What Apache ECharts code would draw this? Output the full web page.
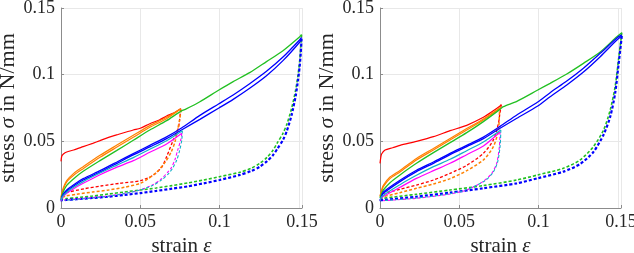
<!DOCTYPE html>
<html><head><meta charset="utf-8">
<script src="https://cdn.jsdelivr.net/npm/echarts@6/dist/echarts.min.js"></script>
<style>html,body{margin:0;padding:0;background:#fff}#c{width:634px;height:253px}</style>
</head><body><div id="c"></div>
<script>
// ---------- tick labels ----------
const xTicks = [0, 0.05, 0.1, 0.15];
const yTicks = [0, 0.05, 0.1, 0.15];
const xLabel = ['strain ', 'ε'];
const yLabel = ['stress ', 'σ', ' in N/mm'];

// ---------- left panel ----------
const L_red_load = [[0,0.035],[0.0005,0.039],[0.0015,0.0405],[0.0036,0.042],[0.008,0.0435],[0.014,0.046],[0.02,0.0485],[0.0246,0.0505],[0.03,0.053],[0.035,0.0548],[0.0456,0.0585],[0.05,0.0598],[0.056,0.0632],[0.062,0.066],[0.0666,0.069],[0.071,0.0712],[0.0755,0.0745]];
const L_red_unload = [[0.0755,0.0745],[0.0748,0.066],[0.074,0.06],[0.0708,0.051],[0.0666,0.0385],[0.0635,0.0305],[0.058,0.0245],[0.05,0.0205],[0.037,0.0185],[0.025,0.0165],[0.015,0.0145],[0.003,0.0115],[0.0005,0.0105]];
const L_orange_load1 = [[0,0.0075],[0.001,0.0125],[0.0036,0.0195],[0.008,0.0245],[0.014,0.0295],[0.0246,0.038],[0.035,0.0455],[0.0456,0.053],[0.056,0.0605],[0.0666,0.067],[0.0755,0.0742]];
const L_orange_load2 = [[0,0.008],[0.001,0.0135],[0.0036,0.0205],[0.008,0.026],[0.014,0.031],[0.0246,0.0395],[0.035,0.047],[0.0456,0.0545],[0.056,0.0618],[0.0666,0.068],[0.0755,0.0745]];
const L_orange_unload = [[0.0758,0.0738],[0.0748,0.066],[0.0735,0.0585],[0.072,0.05],[0.0695,0.042],[0.0655,0.034],[0.06,0.0265],[0.055,0.022],[0.05,0.0185],[0.04,0.0155],[0.03,0.0135],[0.02,0.012],[0.01,0.0103],[0.003,0.009],[0.0005,0.008]];
const L_green_load = [[0,0.0065],[0.001,0.011],[0.0036,0.017],[0.008,0.022],[0.014,0.0275],[0.0246,0.0355],[0.035,0.043],[0.0456,0.0508],[0.056,0.0585],[0.0666,0.0655],[0.0755,0.0725],[0.079,0.0743],[0.0876,0.0797],[0.0996,0.0885],[0.1086,0.0948],[0.119,0.1015],[0.1296,0.1098],[0.14,0.118],[0.1506,0.1285],[0.1517,0.13]];
const L_green_unload = [[0.1517,0.13],[0.1512,0.12],[0.1505,0.11],[0.1495,0.1],[0.148,0.0885],[0.1455,0.075],[0.1425,0.063],[0.14,0.056],[0.1365,0.049],[0.1338,0.0435],[0.13,0.038],[0.1254,0.0335],[0.12,0.0298],[0.1128,0.0268],[0.1,0.0235],[0.09,0.021],[0.08,0.0188],[0.07,0.0168],[0.06,0.015],[0.05,0.0135],[0.04,0.012],[0.03,0.0105],[0.02,0.009],[0.01,0.0078],[0.003,0.007],[0.0005,0.0068]];
const L_blue_load1 = [[0,0.005],[0.001,0.009],[0.0036,0.0125],[0.008,0.0165],[0.014,0.021],[0.0246,0.027],[0.035,0.0333],[0.0456,0.0398],[0.056,0.0458],[0.0666,0.052],[0.076,0.0585],[0.0876,0.0665],[0.0996,0.075],[0.1086,0.0815],[0.119,0.0898],[0.1296,0.0992],[0.14,0.1105],[0.1506,0.1245],[0.1517,0.127]];
const L_blue_load2 = [[0,0.006],[0.001,0.0095],[0.0036,0.0135],[0.008,0.0175],[0.014,0.022],[0.0246,0.028],[0.035,0.0343],[0.0456,0.0408],[0.056,0.047],[0.0666,0.0533],[0.076,0.06],[0.0876,0.0695],[0.0996,0.0782],[0.1086,0.0848],[0.119,0.0932],[0.1296,0.1025],[0.14,0.1132],[0.1506,0.1262],[0.1517,0.128]];
const L_blue_unload = [[0.1517,0.127],[0.1512,0.116],[0.1505,0.106],[0.1495,0.096],[0.148,0.084],[0.1455,0.07],[0.1425,0.058],[0.14,0.051],[0.1365,0.0445],[0.1338,0.0398],[0.13,0.0352],[0.1254,0.031],[0.12,0.0278],[0.1128,0.0248],[0.1,0.021],[0.09,0.0185],[0.08,0.0162],[0.07,0.0145],[0.06,0.0128],[0.05,0.0112],[0.04,0.0098],[0.03,0.0085],[0.02,0.0075],[0.01,0.0066],[0.003,0.006],[0.0005,0.0058]];
const L_magenta_load = [[0,0.0055],[0.001,0.008],[0.0036,0.011],[0.008,0.0145],[0.014,0.0185],[0.0246,0.025],[0.035,0.0305],[0.0456,0.0355],[0.056,0.0418],[0.0666,0.048],[0.0762,0.056]];
const L_magenta_unload = [[0.0762,0.056],[0.0755,0.051],[0.0735,0.043],[0.0718,0.036],[0.0695,0.03],[0.0676,0.0272],[0.0635,0.022],[0.058,0.0175],[0.05,0.0135],[0.04,0.011],[0.03,0.009],[0.02,0.0078],[0.01,0.0068],[0.002,0.006]];
const L_cyan_load = [[0,0.0058],[0.001,0.0085],[0.0036,0.0118],[0.008,0.0155],[0.014,0.0198],[0.0246,0.0262],[0.035,0.032],[0.0456,0.0378],[0.056,0.044],[0.0666,0.0505],[0.0765,0.058]];
const L_cyan_unload = [[0.0765,0.058],[0.0762,0.051],[0.0748,0.043],[0.073,0.036],[0.0705,0.03],[0.068,0.026],[0.064,0.0215],[0.058,0.017],[0.05,0.0135],[0.04,0.0108],[0.03,0.0088],[0.02,0.0075],[0.01,0.0065],[0.002,0.0058]];

// ---------- right panel ----------
const R_red_load = [[0,0.0335],[0.0005,0.038],[0.001,0.0405],[0.0032,0.0435],[0.008,0.0452],[0.0126,0.047],[0.023,0.05],[0.0337,0.0535],[0.0442,0.058],[0.0547,0.062],[0.0652,0.068],[0.071,0.0725],[0.0757,0.0765],[0.0765,0.0775]];
const R_red_unload = [[0.0765,0.0775],[0.0755,0.07],[0.0747,0.0635],[0.0715,0.051],[0.0652,0.041],[0.0547,0.032],[0.0442,0.026],[0.0337,0.021],[0.023,0.0172],[0.0126,0.014],[0.0021,0.011],[0.0005,0.0105]];
const R_orange_load1 = [[0,0.0085],[0.001,0.0125],[0.0021,0.016],[0.0063,0.022],[0.0126,0.027],[0.023,0.036],[0.0337,0.0435],[0.0442,0.051],[0.0547,0.0585],[0.0652,0.066],[0.0757,0.0748],[0.0762,0.0755]];
const R_orange_load2 = [[0,0.009],[0.001,0.0135],[0.0021,0.017],[0.0063,0.0232],[0.0126,0.0282],[0.023,0.0372],[0.0337,0.0447],[0.0442,0.0522],[0.0547,0.0596],[0.0652,0.0668],[0.0757,0.0752],[0.0762,0.0758]];
const R_orange_unload = [[0.0762,0.0755],[0.0755,0.0735],[0.0747,0.0585],[0.0715,0.046],[0.0652,0.036],[0.0547,0.028],[0.0442,0.022],[0.0337,0.018],[0.023,0.0148],[0.0126,0.0115],[0.0021,0.0085],[0.0005,0.008]];
const R_green_load = [[0,0.0075],[0.001,0.011],[0.0021,0.0135],[0.0063,0.019],[0.0126,0.0248],[0.023,0.0335],[0.0337,0.0415],[0.0442,0.049],[0.0547,0.0565],[0.0652,0.0648],[0.0757,0.074],[0.0778,0.076],[0.0863,0.08],[0.0995,0.0885],[0.1073,0.0935],[0.1178,0.1005],[0.1283,0.1085],[0.1389,0.117],[0.1494,0.1285],[0.1525,0.1315]];
const R_green_unload = [[0.1525,0.1315],[0.1504,0.111],[0.1483,0.091],[0.1452,0.0735],[0.141,0.0585],[0.1346,0.046],[0.1262,0.036],[0.1157,0.0298],[0.0995,0.0248],[0.0863,0.021],[0.0652,0.0168],[0.0442,0.0135],[0.023,0.0103],[0.0021,0.0073],[0.0005,0.007]];
const R_blue_load1 = [[0,0.005],[0.001,0.008],[0.0021,0.011],[0.0126,0.0198],[0.023,0.0273],[0.0337,0.0335],[0.0442,0.04],[0.0547,0.046],[0.0652,0.052],[0.0757,0.0598],[0.0863,0.0673],[0.0995,0.0765],[0.1073,0.0835],[0.1178,0.0923],[0.1283,0.102],[0.1389,0.1135],[0.1494,0.126],[0.1525,0.129]];
const R_blue_load2 = [[0,0.0058],[0.001,0.009],[0.0021,0.012],[0.0126,0.0208],[0.023,0.0283],[0.0337,0.0345],[0.0442,0.041],[0.0547,0.047],[0.0652,0.0532],[0.0757,0.0612],[0.0863,0.0698],[0.0995,0.0795],[0.1073,0.0865],[0.1178,0.0952],[0.1283,0.1048],[0.1389,0.116],[0.1494,0.1275],[0.1525,0.1298]];
const R_blue_unload = [[0.1525,0.129],[0.1504,0.107],[0.1483,0.086],[0.1452,0.0685],[0.141,0.055],[0.1346,0.042],[0.1262,0.033],[0.1157,0.0273],[0.0995,0.0223],[0.0863,0.0185],[0.0652,0.0148],[0.0442,0.0115],[0.023,0.0085],[0.0021,0.006],[0.0005,0.0058]];
const R_magenta_load = [[0,0.0055],[0.001,0.0078],[0.0126,0.0155],[0.023,0.0222],[0.0337,0.028],[0.0442,0.0335],[0.0547,0.04],[0.0652,0.0465],[0.0757,0.057]];
const R_magenta_unload = [[0.0757,0.057],[0.0753,0.046],[0.0736,0.0335],[0.0705,0.026],[0.0652,0.02],[0.0547,0.0135],[0.0442,0.0105],[0.023,0.0073],[0.0021,0.0055]];
const R_cyan_load = [[0,0.0055],[0.001,0.0085],[0.0126,0.0175],[0.023,0.0245],[0.0337,0.031],[0.0442,0.0365],[0.0547,0.043],[0.0652,0.0495],[0.0762,0.0585]];
const R_cyan_unload = [[0.0762,0.0585],[0.0758,0.047],[0.0742,0.0345],[0.0712,0.0265],[0.066,0.0203],[0.0547,0.0138],[0.0442,0.0107],[0.023,0.0075],[0.0021,0.0056]];

// ---------- colours ----------
const C = {red:'#ff0000', orange:'#ff8000', green:'#22c022', blue:'#0000ff', magenta:'#ff00ff', cyan:'#12b0c8'};

const FONT = 'Liberation Serif';
const chart = echarts.init(document.getElementById('c'), null, {renderer:'canvas'});

function line(idx, data, color, dashed, width) {
  return {
    type:'line', xAxisIndex: idx, yAxisIndex: idx, data: data,
    showSymbol:false, symbol:'none', smooth:0.25, silent:true,
    lineStyle:{color: color, width: width, type: dashed ? [3,2] : 'solid'}
  };
}

function panel(idx, P) {
  return [
    line(idx, P.red_load, C.red, false, 1.2),
    line(idx, P.red_unload, C.red, true, 1.3),
    line(idx, P.orange_load1, C.orange, false, 1.2),
    line(idx, P.orange_load2, C.orange, false, 1.2),
    line(idx, P.orange_unload, C.orange, true, 1.5),
    line(idx, P.green_load, C.green, false, 1.3),
    line(idx, P.green_unload, C.green, true, 1.6),
    line(idx, P.blue_load1, C.blue, false, 1.3),
    line(idx, P.blue_load2, C.blue, false, 1.3),
    line(idx, P.blue_unload, C.blue, true, 2.2),
    line(idx, P.magenta_load, C.magenta, false, 1.2),
    line(idx, P.magenta_unload, C.magenta, true, 1.1),
    line(idx, P.cyan_load, C.cyan, false, 1.2),
    line(idx, P.cyan_unload, C.cyan, true, 1.1)
  ];
}

const Lp = {red_load:L_red_load, red_unload:L_red_unload, orange_load1:L_orange_load1, orange_load2:L_orange_load2, orange_unload:L_orange_unload,
  green_load:L_green_load, green_unload:L_green_unload, blue_load1:L_blue_load1, blue_load2:L_blue_load2, blue_unload:L_blue_unload,
  magenta_load:L_magenta_load, magenta_unload:L_magenta_unload, cyan_load:L_cyan_load, cyan_unload:L_cyan_unload};
const Rp = {red_load:R_red_load, red_unload:R_red_unload, orange_load1:R_orange_load1, orange_load2:R_orange_load2, orange_unload:R_orange_unload,
  green_load:R_green_load, green_unload:R_green_unload, blue_load1:R_blue_load1, blue_load2:R_blue_load2, blue_unload:R_blue_unload,
  magenta_load:R_magenta_load, magenta_unload:R_magenta_unload, cyan_load:R_cyan_load, cyan_unload:R_cyan_unload};

const axisCol = '#8c8c8c';
const txtCol = '#262626';
const fmt = v => (Math.abs(v) < 1e-9 ? '0' : String(+v.toFixed(2)));

function xAx(idx) {
  return {
    type:'value', gridIndex: idx, min:0, max:0.152, interval:0.05,
    axisLine:{show:true, onZero:false, lineStyle:{color:axisCol, width:1}},
    axisTick:{show:true, inside:true, length:3, lineStyle:{color:axisCol}},
    splitLine:{show:true, lineStyle:{color:'#e8e8e8', width:1}},
    axisLabel:{margin:5, color:txtCol, fontFamily:FONT, fontSize:18, formatter: fmt, showMaxLabel:true},
    name: '{n|' + xLabel[0] + '}{i|' + xLabel[1] + '}', nameLocation:'middle', nameGap:24,
    nameTextStyle:{color:txtCol, fontFamily:FONT, fontSize:21,
      rich:{n:{fontFamily:FONT, fontSize:21, color:txtCol}, i:{fontFamily:FONT, fontSize:21, fontStyle:'italic', color:txtCol}}}
  };
}
function yAx(idx) {
  return {
    type:'value', gridIndex: idx, min:0, max:0.15, interval:0.05,
    axisLine:{show:true, onZero:false, lineStyle:{color:axisCol, width:1}},
    axisTick:{show:true, inside:true, length:3, lineStyle:{color:axisCol}},
    splitLine:{show:true, lineStyle:{color:'#e8e8e8', width:1}},
    axisLabel:{margin:6, color:txtCol, fontFamily:FONT, fontSize:18, formatter: fmt},
    name: '{n|' + yLabel[0] + '}{i|' + yLabel[1] + '}{n|' + yLabel[2] + '}', nameLocation:'middle', nameGap:41, nameRotate:90,
    nameTextStyle:{color:txtCol, fontFamily:FONT, fontSize:22,
      rich:{n:{fontFamily:FONT, fontSize:22, color:txtCol}, i:{fontFamily:FONT, fontSize:22, fontStyle:'italic', color:txtCol}}}
  };
}

chart.setOption({
  animation:false,
  backgroundColor:'#ffffff',
  grid:[
    {left:61, top:8, width:241, height:200, containLabel:false, outerBoundsMode:'none'},
    {left:380, top:8, width:241, height:200, containLabel:false, outerBoundsMode:'none'}
  ],
  xAxis:[xAx(0), xAx(1)],
  yAxis:[yAx(0), yAx(1)],
  series: panel(0, Lp).concat(panel(1, Rp))
});
</script>
</body></html>
